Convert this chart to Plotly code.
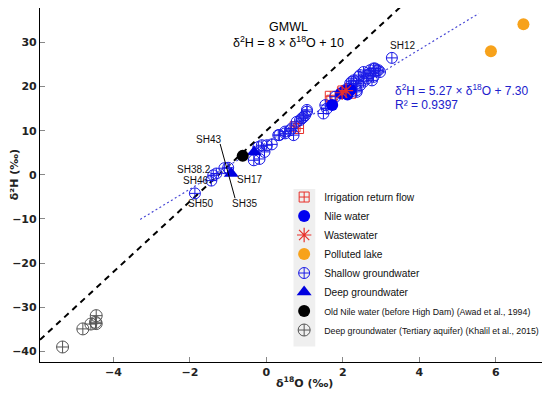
import plotly.graph_objects as go

# ---------------- data ----------------
shallow_x = [-1.87, -1.44, -1.31, -1.39, -1.10, -1.00, -0.33, -0.18, -0.21, -0.12, 0.01, 0.14,
             -0.05, 0.34, 0.49, 0.31, 0.49, 0.62, 0.66, 0.71, 0.79, 0.88, 0.93, 0.97, 1.01,
             1.06, 1.06, 1.49, 1.54, 1.58, 1.80, 2.06, 2.10, 2.19, 2.19, 2.23, 2.28, 2.36,
             2.36, 2.36, 2.41, 2.45, 2.45, 2.54, 2.54, 2.63, 2.63, 2.71, 2.71, 2.76, 2.80,
             2.80, 2.84, 2.89, 2.93, 2.97, 3.28]
shallow_y = [-4.2, -1.3, 0.3, -0.1, 1.5, 1.6, 3.3, 3.6, 6.3, 6.7, 6.7, 6.9,
             5.2, 9.0, 9.4, 9.0, 9.8, 10.1, 10.5, 9.0, 12.0, 12.4, 12.8, 13.1, 13.5,
             14.3, 14.7, 13.9, 15.8, 15.0, 17.7, 19.2, 18.4, 19.6, 20.7, 21.1, 21.4, 18.8,
             20.7, 19.2, 22.2, 20.3, 22.6, 21.1, 23.3, 21.8, 22.6, 23.0, 23.7, 21.4, 24.1,
             22.2, 24.1, 23.7, 23.7, 23.3, 26.5]

irrigation_x = [0.75, 0.84, 1.67, 1.71, 2.00, 2.20]
irrigation_y = [10.9, 10.5, 17.8, 16.9, 19.0, 18.5]

nile_x = [1.72, 1.95, 2.05, 2.12, 2.20]
nile_y = [15.8, 18.5, 19.0, 18.2, 19.3]

waste_x = [1.98, 2.08]
waste_y = [18.6, 19.1]

lake_x = [5.87, 6.72]
lake_y = [28.0, 34.1]

deep_x = [-0.92, -0.32]
deep_y = [0.3, 5.2]

oldnile_x = [-0.62]
oldnile_y = [4.3]

tertiary_x = [-5.33, -4.80, -4.59, -4.47, -4.45, -4.45]
tertiary_y = [-39.0, -34.9, -33.8, -33.4, -33.7, -31.9]

# lines: slope / intercept and x extents
gmwl_slope, gmwl_int = 8.0, 10.0
gmwl_xr = [-5.92, 3.6]
fit_slope, fit_int = 5.27, 7.30
fit_xr = [-3.30, 5.55]

x_ticks = [-4, -2, 0, 2, 4, 6]
y_ticks = [-40, -30, -20, -10, 0, 10, 20, 30]

labels = ["SH43", "SH38.2", "SH46", "SH50", "SH17", "SH35", "SH12"]
label_x = [-1.52, -1.89, -1.86, -1.73, -0.43, -0.58, 3.57]
label_y = [8.0, 1.3, -1.3, -6.5, -1.0, -6.4, 29.2]

# ---------------- figure ----------------
BLUE = "#1a1ae6"
RED = "#e8302a"
ORANGE = "#f7a21b"

fig = go.Figure()

fig.add_trace(go.Scatter(x=gmwl_xr, y=[gmwl_slope * v + gmwl_int for v in gmwl_xr],
                         mode="lines", line=dict(color="black", width=2, dash="6px,5px"),
                         showlegend=False, hoverinfo="skip"))
fig.add_trace(go.Scatter(x=fit_xr, y=[fit_slope * v + fit_int for v in fit_xr],
                         mode="lines", line=dict(color="#4b4bd6", width=1.2, dash="2px,2.5px"),
                         showlegend=False, hoverinfo="skip"))

def nm(t, size):
    return f'<span style="font-size:{size}px">{t}</span>'

fig.add_trace(go.Scatter(x=irrigation_x, y=irrigation_y, mode="markers", name="Irrigation return flow",
                         legendrank=1,
                         marker=dict(symbol="square-cross-open", size=10, color=RED, line=dict(width=1))))
fig.add_trace(go.Scatter(x=tertiary_x, y=tertiary_y, mode="markers",
                         name=nm("Deep groundwater (Tertiary aquifer) (Khalil et al., 2015)", 8.8),
                         legendrank=8,
                         marker=dict(symbol="circle-cross-open", size=12, color="#555555", line=dict(width=1))))
fig.add_trace(go.Scatter(x=shallow_x, y=shallow_y, mode="markers", name="Shallow groundwater",
                         legendrank=5,
                         marker=dict(symbol="circle-cross-open", size=11, color=BLUE, line=dict(width=1))))
fig.add_trace(go.Scatter(x=nile_x, y=nile_y, mode="markers", name="Nile water",
                         legendrank=2,
                         marker=dict(symbol="circle", size=12, color="#0000f0")))
fig.add_trace(go.Scatter(x=waste_x, y=waste_y, mode="markers", name="Wastewater",
                         legendrank=3,
                         marker=dict(symbol="asterisk-open", size=12, color=RED, line=dict(width=1.2, color=RED))))
fig.add_trace(go.Scatter(x=lake_x, y=lake_y, mode="markers", name="Polluted lake",
                         legendrank=4,
                         marker=dict(symbol="circle", size=12, color=ORANGE)))
fig.add_trace(go.Scatter(x=deep_x, y=deep_y, mode="markers", name="Deep groundwater",
                         legendrank=6,
                         marker=dict(symbol="triangle-up", size=13, color="#0000e0")))
fig.add_trace(go.Scatter(x=oldnile_x, y=oldnile_y, mode="markers",
                         name=nm("Old Nile water (before High Dam) (Awad et al., 1994)", 8.8),
                         legendrank=7,
                         marker=dict(symbol="circle", size=12, color="black")))

annotations = []
for t, lx, ly in zip(labels, label_x, label_y):
    annotations.append(dict(x=lx, y=ly, xref="x", yref="y", text=t, showarrow=False,
                            font=dict(family="Liberation Sans", size=10, color="#111")))

txt_font = dict(family="Liberation Sans", size=12.5, color="black")
blue_font = dict(family="Liberation Sans", size=12, color="#2020cc")
bold_font = dict(family="DejaVu Sans", size=11, color="#222", weight="bold")

annotations += [
    dict(x=0.575, y=33.5, xref="x", yref="y", xanchor="center", yanchor="middle",
         text="GMWL", showarrow=False, font=txt_font),
    dict(x=0.575, y=30.1, xref="x", yref="y", xanchor="center", yanchor="middle",
         text="δ<sup>2</sup>H = 8 × δ<sup>18</sup>O + 10", showarrow=False, font=txt_font),
    dict(x=3.30, y=19.2, xref="x", yref="y", xanchor="left", yanchor="middle",
         text="δ<sup>2</sup>H = 5.27 × δ<sup>18</sup>O + 7.30", showarrow=False, font=blue_font),
    dict(x=3.30, y=15.9, xref="x", yref="y", xanchor="left", yanchor="middle",
         text="R² = 0.9397", showarrow=False, font=blue_font),
    dict(x=-0.0504, y=0.529, xref="paper", yref="paper", xanchor="center", yanchor="middle",
         textangle=-90, text="δ²H (‰)", showarrow=False, font=bold_font),
    dict(x=0.522, y=0.0, xref="paper", yref="paper", xanchor="center", yanchor="middle", yshift=-20.5,
         text="δ<sup>18</sup>O (‰)", showarrow=False, font=bold_font),
]

shapes = [
    dict(type="rect", xref="paper", yref="paper", x0=0.501, x1=0.544, y0=0.044, y1=0.489,
         fillcolor="#efefef", line=dict(width=0), layer="below"),
    dict(type="line", xref="x", yref="y", x0=-1.21, y0=7.0, x1=-0.82, y1=-5.3,
         line=dict(color="black", width=1)),
]

# the page body has an 8px default margin, so the margins below compensate for it
fig.update_layout(
    width=550, height=394,
    margin=dict(l=32, r=12, t=0, b=40, autoexpand=False),
    paper_bgcolor="white", plot_bgcolor="white",
    annotations=annotations, shapes=shapes,
    legend=dict(x=0.4825, y=0.507, xanchor="left", yanchor="top", bgcolor="rgba(0,0,0,0)",
                font=dict(family="Liberation Sans", size=10.2, color="#111"),
                itemsizing="trace"),
    xaxis=dict(range=[-5.92, 7.31], tickvals=x_ticks, ticks="inside", ticklen=5, tickcolor="#888",
               showline=True, mirror=True, linecolor="black", linewidth=1.2, showgrid=False, zeroline=False,
               tickfont=bold_font),
    yaxis=dict(range=[-42.4, 37.8], tickvals=y_ticks, ticks="inside", ticklen=5, tickcolor="#888",
               showline=True, mirror=True, linecolor="black", linewidth=1.2, showgrid=False, zeroline=False,
               tickfont=bold_font),
)

fig.write_html("out.html")
